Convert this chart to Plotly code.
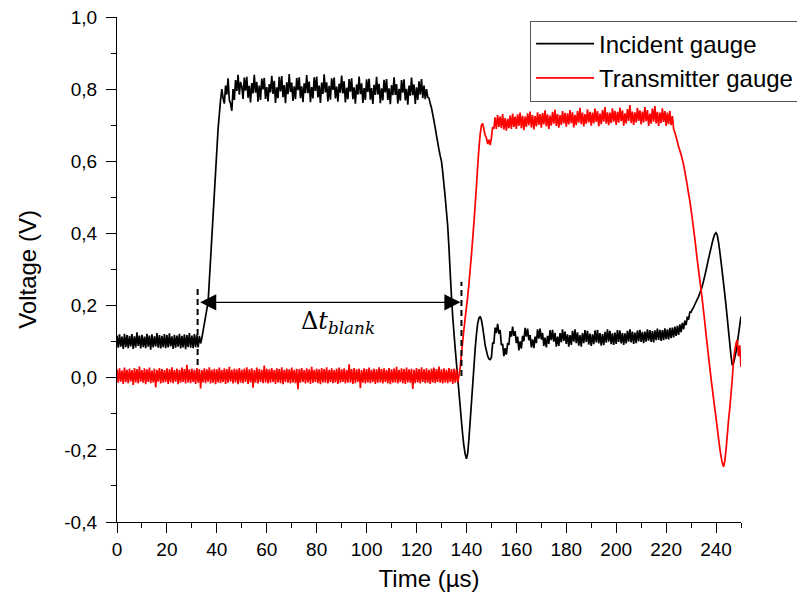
import numpy as np
import plotly.graph_objects as go

# ---- data (sampling step 0.5 µs, 0 .. 250 µs) ----
T_STEP_US = 0.5

incident_gauge_V = [
    # 0 - 29.5 µs
    0.117,0.083,0.120,0.086,0.114,0.080,0.122,0.085,0.118,0.082,0.116,0.087,0.121,0.080,0.115,0.084,0.126,0.088,0.117,0.081,
    0.119,0.085,0.114,0.082,0.122,0.086,0.117,0.078,0.120,0.084,0.115,0.087,0.124,0.083,0.118,0.081,0.116,0.085,0.121,0.082,
    0.118,0.084,0.123,0.087,0.115,0.080,0.119,0.083,0.117,0.086,0.122,0.081,0.116,0.084,0.120,0.079,0.118,0.085,0.124,0.083,
    # 30 - 49.5 µs
    0.117,0.082,0.121,0.085,0.119,0.084,0.116,0.095,0.110,0.130,0.150,0.170,0.190,0.210,0.270,0.330,0.390,0.450,0.510,0.570,
    0.630,0.690,0.730,0.770,0.800,0.775,0.760,0.810,0.785,0.830,0.770,0.760,0.740,0.800,0.770,0.825,0.795,0.840,0.785,0.820,
    # 50 - 119.5 µs
    0.807,0.773,0.832,0.796,0.834,0.776,0.809,
    0.763,0.817,0.788,0.840,0.790,0.820,0.765,
    0.810,0.770,0.829,0.799,0.831,0.773,0.806,
    0.766,0.814,0.791,0.837,0.787,0.823,0.762,
    0.805,0.775,0.834,0.794,0.836,0.778,0.811,
    0.761,0.819,0.786,0.842,0.792,0.818,0.767,
    0.808,0.772,0.831,0.797,0.833,0.775,0.808,
    0.764,0.816,0.789,0.839,0.789,0.821,0.764,
    0.806,0.774,0.833,0.795,0.835,0.777,0.810,
    0.762,0.818,0.787,0.841,0.791,0.819,0.766,
    0.809,0.771,0.830,0.798,0.832,0.774,0.807,
    0.765,0.815,0.790,0.838,0.788,0.822,0.763,
    0.804,0.772,0.828,0.793,0.830,0.772,0.805,
    0.760,0.813,0.785,0.835,0.786,0.816,0.762,
    0.803,0.770,0.827,0.792,0.829,0.771,0.803,
    0.759,0.812,0.784,0.834,0.785,0.815,0.761,
    0.802,0.769,0.826,0.791,0.828,0.770,0.802,
    0.758,0.811,0.783,0.833,0.784,0.814,0.760,
    0.801,0.768,0.825,0.790,0.827,0.769,0.801,
    0.757,0.810,0.782,0.832,0.783,0.813,0.759,
    # 120 - 249.5 µs
    0.805,0.770,0.822,0.785,0.828,0.775,0.810,0.772,0.800,0.778,0.775,0.760,0.748,0.730,0.712,0.692,0.672,0.652,0.632,0.615,
    0.600,0.570,0.535,0.500,0.460,0.420,0.360,0.290,0.225,0.170,0.125,0.080,0.040,0.000,-0.040,-0.080,-0.120,-0.158,-0.190,-0.212,
    -0.225,-0.210,-0.170,-0.120,-0.070,-0.020,0.030,0.080,0.120,0.150,0.165,0.170,0.160,0.140,0.115,0.090,0.075,0.060,0.052,0.050,
    0.056,0.096,0.096,0.139,0.124,0.149,0.122,0.132,0.090,0.094,0.060,0.082,0.064,0.096,0.091,0.129,0.114,0.142,0.116,0.129,
    0.096,0.114,0.076,0.101,0.081,0.116,0.101,0.138,0.114,0.136,0.104,0.118,0.084,0.106,0.082,0.114,0.096,0.134,0.108,0.136,
    0.106,0.124,0.088,0.111,0.084,0.116,0.094,0.132,0.104,0.133,0.100,0.124,0.086,0.114,0.088,0.124,0.098,0.134,0.102,0.128,
    0.094,0.120,0.086,0.118,0.091,0.130,0.100,0.134,0.096,0.126,0.089,0.118,0.086,0.124,0.096,0.132,0.099,0.130,0.092,0.122,
    0.088,0.120,0.093,0.131,0.098,0.133,0.095,0.124,0.089,0.121,0.090,0.127,0.097,0.134,0.100,0.130,0.093,0.123,0.091,0.125,
    0.094,0.132,0.099,0.131,0.095,0.124,0.091,0.123,0.095,0.130,0.100,0.134,0.098,0.128,0.094,0.125,0.096,0.131,0.101,0.133,
    0.099,0.127,0.096,0.128,0.100,0.134,0.103,0.132,0.099,0.129,0.098,0.131,0.104,0.136,0.105,0.133,0.102,0.132,0.104,0.137,
    0.107,0.134,0.106,0.138,0.110,0.139,0.112,0.142,0.116,0.144,0.119,0.148,0.126,0.152,0.134,0.158,0.146,0.169,0.161,0.182,
    0.182,0.190,0.195,0.203,0.210,0.218,0.225,0.235,0.243,0.255,0.268,0.283,0.298,0.314,0.330,0.345,0.360,0.375,0.388,0.398,
    0.402,0.395,0.375,0.350,0.322,0.292,0.262,0.232,0.200,0.165,0.130,0.095,0.060,0.035,0.040,0.055,0.072,0.095,0.120,0.145,
    # 250 µs
    0.170,
]

transmitter_gauge_V = [
    # 0 - 129.5 µs
    0.023,-0.014,0.026,-0.011,0.020,-0.017,0.028,-0.012,0.022,-0.015,0.025,-0.010,0.021,-0.020,0.027,-0.013,0.024,-0.016,0.031,-0.011,
    0.021,-0.014,0.026,-0.018,0.023,-0.012,0.028,-0.015,0.020,-0.013,0.025,-0.027,0.022,-0.011,0.027,-0.016,0.024,-0.014,0.021,-0.012,
    0.026,-0.017,0.023,-0.013,0.029,-0.015,0.021,-0.011,0.025,-0.018,0.022,-0.014,0.028,-0.012,0.024,-0.016,0.036,-0.013,0.023,-0.015,
    0.025,-0.012,0.022,-0.017,0.027,-0.014,0.024,-0.030,0.021,-0.013,0.026,-0.015,0.023,-0.011,0.029,-0.016,0.022,-0.014,0.025,-0.018,
    0.023,-0.013,0.028,-0.015,0.021,-0.012,0.026,-0.017,0.024,-0.014,0.030,-0.011,0.022,-0.016,0.025,-0.013,0.023,-0.018,0.027,-0.014,
    0.022,-0.015,0.025,-0.012,0.029,-0.017,0.023,-0.013,0.026,-0.028,0.021,-0.014,0.028,-0.016,0.024,-0.012,0.022,-0.015,0.034,-0.013,
    0.025,-0.016,0.023,-0.014,0.027,-0.012,0.021,-0.017,0.026,-0.013,0.024,-0.015,0.029,-0.018,0.022,-0.012,0.025,-0.014,0.023,-0.016,
    0.028,-0.013,0.022,-0.015,0.025,-0.032,0.024,-0.014,0.027,-0.012,0.021,-0.016,0.026,-0.013,0.023,-0.017,0.030,-0.014,0.022,-0.012,
    0.025,-0.015,0.023,-0.018,0.027,-0.013,0.024,-0.014,0.029,-0.016,0.022,-0.012,0.026,-0.015,0.021,-0.013,0.025,-0.017,0.028,-0.014,
    0.023,-0.012,0.026,-0.016,0.022,-0.014,0.037,-0.013,0.024,-0.017,0.027,-0.015,0.023,-0.012,0.025,-0.029,0.021,-0.014,0.026,-0.016,
    0.024,-0.013,0.028,-0.015,0.022,-0.012,0.025,-0.017,0.023,-0.014,0.029,-0.013,0.024,-0.016,0.026,-0.012,0.022,-0.015,0.027,-0.018,
    0.023,-0.014,0.025,-0.013,0.030,-0.016,0.022,-0.012,0.026,-0.015,0.024,-0.017,0.028,-0.013,0.023,-0.014,0.025,-0.031,0.022,-0.015,
    0.027,-0.013,0.024,-0.016,0.029,-0.012,0.023,-0.015,0.026,-0.014,0.022,-0.017,0.025,-0.013,0.028,-0.015,0.024,-0.012,0.031,-0.014,
    # 130 - 249.5 µs
    0.023,-0.016,0.026,-0.013,0.022,-0.015,0.027,-0.012,0.024,-0.017,0.025,-0.014,0.023,-0.013,0.005,0.030,0.065,0.100,0.135,0.165,
    0.195,0.225,0.260,0.300,0.340,0.385,0.430,0.480,0.530,0.585,0.635,0.675,0.700,0.705,0.688,0.672,0.665,0.648,0.660,0.645,
    0.665,0.695,0.690,0.722,0.690,0.728,0.695,0.724,0.692,0.731,0.688,0.720,0.685,0.718,0.692,0.727,0.690,0.732,0.695,0.724,
    0.690,0.730,0.698,0.735,0.692,0.726,0.686,0.724,0.695,0.733,0.700,0.738,0.694,0.728,0.688,0.725,0.697,0.736,0.701,0.731,
    0.693,0.734,0.702,0.741,0.697,0.730,0.690,0.727,0.699,0.737,0.704,0.743,0.698,0.731,0.693,0.728,0.701,0.739,0.705,0.734,
    0.696,0.733,0.702,0.742,0.706,0.736,0.694,0.729,0.700,0.739,0.707,0.748,0.703,0.735,0.697,0.731,0.704,0.744,0.708,0.737,
    0.699,0.735,0.705,0.746,0.709,0.739,0.697,0.732,0.703,0.742,0.710,0.750,0.704,0.736,0.700,0.735,0.706,0.747,0.710,0.740,
    0.701,0.737,0.707,0.749,0.711,0.741,0.699,0.733,0.705,0.745,0.712,0.756,0.706,0.738,0.701,0.736,0.708,0.748,0.712,0.741,
    0.702,0.738,0.708,0.750,0.711,0.742,0.698,0.732,0.704,0.746,0.710,0.753,0.705,0.737,0.698,0.735,0.706,0.747,0.709,0.739,
    0.698,0.735,0.703,0.740,0.700,0.725,0.690,0.680,0.668,0.655,0.640,0.630,0.618,0.605,0.590,0.572,0.552,0.532,0.510,0.490,
    0.465,0.440,0.412,0.385,0.355,0.325,0.298,0.270,0.245,0.215,0.185,0.153,0.120,0.090,0.058,0.028,-0.002,-0.030,-0.058,-0.085,
    -0.112,-0.140,-0.168,-0.195,-0.218,-0.236,-0.247,-0.232,-0.200,-0.160,-0.118,-0.085,-0.045,-0.005,0.050,0.075,0.095,0.105,0.060,0.090,
    # 250 µs
    0.030,
]

series_names = ["Incident gauge", "Transmitter gauge"]
series_colors = ["#000000", "#ff0000"]

x_tick_values = [0, 20, 40, 60, 80, 100, 120, 140, 160, 180, 200, 220, 240]
y_tick_values = [-0.4, -0.2, 0.0, 0.2, 0.4, 0.6, 0.8, 1.0]
y_tick_labels = ["-0,4", "-0,2", "0,0", "0,2", "0,4", "0,6", "0,8", "1,0"]

# Δt_blank marker (start / end times in µs, arrow level and dashed spans in V)
delta_t_marks_us = [32.3, 138.0]
delta_t_arrow_V = 0.209
delta_t_dash_low_V = [0.035, 0.005]
delta_t_dash_high_V = [0.252, 0.266]
delta_t_label_pos = [88.6, 0.152]

assert len(incident_gauge_V) == 501, len(incident_gauge_V)
assert len(transmitter_gauge_V) == 501, len(transmitter_gauge_V)
time_us = np.arange(len(incident_gauge_V)) * T_STEP_US

fig = go.Figure()
for name, vals, col in zip(series_names, [incident_gauge_V, transmitter_gauge_V], series_colors):
    fig.add_trace(go.Scatter(x=time_us, y=vals, mode="lines", name=name,
                             line=dict(color=col, width=1.7, simplify=False)))

for xm, y0, y1 in zip(delta_t_marks_us, delta_t_dash_low_V, delta_t_dash_high_V):
    fig.add_shape(type="line", xref="x", yref="y", x0=xm, x1=xm, y0=y0, y1=y1,
                  line=dict(color="black", width=2, dash="6px,4px"), layer="above")

fig.add_annotation(x=delta_t_marks_us[1] - 0.4, y=delta_t_arrow_V,
                   ax=delta_t_marks_us[0] + 0.4, ay=delta_t_arrow_V,
                   xref="x", yref="y", axref="x", ayref="y", text="",
                   showarrow=True, arrowside="end+start", arrowhead=2, startarrowhead=2,
                   arrowsize=2.3, startarrowsize=2.3, arrowwidth=1.4, arrowcolor="black",
                   standoff=0, startstandoff=0)

fig.add_annotation(x=delta_t_label_pos[0], y=delta_t_label_pos[1], xref="x", yref="y",
                   text="Δ<i>t</i><sub><i>blank</i></sub>", showarrow=False,
                   font=dict(family="DejaVu Serif", size=24, color="black"))

axis_common = dict(showline=True, linecolor="black", linewidth=1.3, ticks="outside",
                   ticklen=10, tickwidth=1.3, tickcolor="black", showgrid=False,
                   zeroline=False, mirror=False, ticklabeloverflow="allow",
                   tickfont=dict(family="Liberation Sans, Arial", size=19, color="black"))

fig.update_xaxes(range=[0, 250], tickvals=x_tick_values,
                 minor=dict(dtick=10, tick0=0, ticklen=5, tickwidth=1.3, tickcolor="black", ticks="outside"),
                 title=dict(text="Time (µs)", font=dict(size=24, family="Liberation Sans, Arial"), standoff=11),
                 **axis_common)
fig.update_yaxes(range=[-0.4, 1.0], tickvals=y_tick_values, ticktext=y_tick_labels,
                 ticklabelstandoff=5,
                 minor=dict(dtick=0.1, tick0=0, ticklen=5, tickwidth=1.3, tickcolor="black", ticks="outside"),
                 title=dict(text="Voltage (V)", font=dict(size=24, family="Liberation Sans, Arial"), standoff=20),
                 **axis_common)

fig.update_layout(
    width=797, height=593,
    margin=dict(l=109, r=64, t=9, b=79, autoexpand=False),
    paper_bgcolor="white", plot_bgcolor="white",
    font=dict(family="Liberation Sans, Arial", color="black"),
    showlegend=True,
    legend=dict(x=0.662, y=0.993, xanchor="left", yanchor="top",
                bgcolor="white", bordercolor="#555555", borderwidth=1,
                font=dict(size=24, family="Liberation Sans, Arial", color="black"),
                itemwidth=58, tracegroupgap=0),
)

fig.write_html("out.html")
